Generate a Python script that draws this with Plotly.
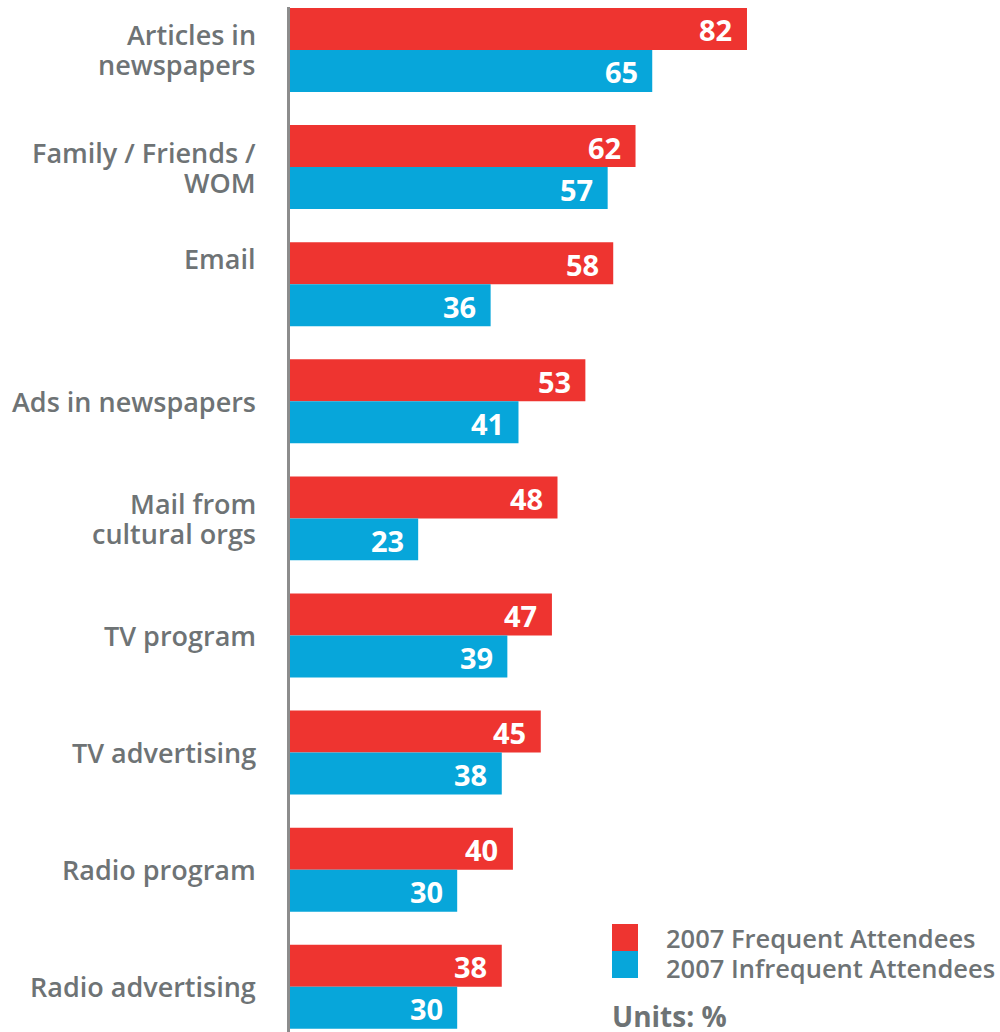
import plotly.graph_objects as go

# Sources of arts information, share of respondents (%)
categories = [
    "Articles in<br>newspapers",
    "Family / Friends /<br>WOM",
    "Email",
    "Ads in newspapers",
    "Mail from<br>cultural orgs",
    "TV program",
    "TV advertising",
    "Radio program",
    "Radio advertising",
]
frequent = [82, 62, 58, 53, 48, 47, 45, 40, 38]
infrequent = [65, 57, 36, 41, 23, 39, 38, 30, 30]
series_names = ["2007 Frequent Attendees", "2007 Infrequent Attendees"]
units_label = "Units: %"

RED = "#EE3430"
BLUE = "#07A6DA"
GREY = "#6E7375"
FONT = "Open Sans"

W, H = 1000, 1032
M_L, M_R, M_T, M_B = 290, 0, 7, 0
X_MAX = 127.4
Y_RANGE = [8.386, -0.367]
BARGAP = 0.283

plot_w = W - M_L - M_R
plot_h = H - M_T - M_B


def px_to_paper_x(px):
    return (px - M_L) / plot_w


def px_to_paper_y(py):
    return (H - M_B - py) / plot_h


fig = go.Figure()
for name, vals, col in [(series_names[0], frequent, RED),
                        (series_names[1], infrequent, BLUE)]:
    fig.add_trace(go.Bar(
        y=categories, x=vals, orientation="h", name=name,
        marker=dict(color=col, line=dict(width=0)),
        showlegend=False, hoverinfo="skip",
    ))

annotations = []

# category labels, one annotation per line for tighter leading
label_shift = {"Email": 26}
line_step = 30
for i, cat in enumerate(categories):
    lines = cat.split("<br>")
    n = len(lines)
    for k, line in enumerate(lines):
        annotations.append(dict(
            x=0, xref="paper", xanchor="right", xshift=-32,
            y=i, yref="y", yanchor="middle",
            yshift=label_shift.get(cat, 0) - (k - (n - 1) / 2) * line_step,
            text=line, showarrow=False,
            font=dict(family=FONT, size=27, weight=600, color=GREY),
        ))

# value labels inside the bar ends
half = (1 - BARGAP) / 4
for i in range(len(categories)):
    for vals, off in [(frequent, -half), (infrequent, half)]:
        annotations.append(dict(
            x=vals[i], xref="x", xanchor="center", xshift=-31,
            y=i + off, yref="y", yanchor="middle", yshift=-1,
            text=str(vals[i]), showarrow=False,
            font=dict(family=FONT, size=29, weight=700, color="white"),
        ))

# custom legend
shapes = []
for (name, col, top, bot, ty) in [
    (series_names[0], RED, 924, 951, 938),
    (series_names[1], BLUE, 951, 978, 968),
]:
    shapes.append(dict(
        type="rect", xref="paper", yref="paper",
        x0=px_to_paper_x(612), x1=px_to_paper_x(638),
        y0=px_to_paper_y(bot), y1=px_to_paper_y(top),
        fillcolor=col, line=dict(width=0),
    ))
    annotations.append(dict(
        x=px_to_paper_x(664), xref="paper", xanchor="left",
        y=px_to_paper_y(ty), yref="paper", yanchor="middle",
        text=name, showarrow=False,
        font=dict(family=FONT, size=25.5, weight=600, color=GREY),
    ))

annotations.append(dict(
    x=px_to_paper_x(610), xref="paper", xanchor="left",
    y=px_to_paper_y(1016), yref="paper", yanchor="middle",
    text=units_label, showarrow=False,
    font=dict(family=FONT, size=28, weight=700, color=GREY),
))

fig.update_layout(
    width=W, height=H,
    margin=dict(l=M_L, r=M_R, t=M_T, b=M_B, pad=0),
    paper_bgcolor="white", plot_bgcolor="white",
    barmode="group", bargap=BARGAP, bargroupgap=0,
    xaxis=dict(range=[0, X_MAX], visible=False, fixedrange=True),
    yaxis=dict(
        range=Y_RANGE, showticklabels=False, showgrid=False,
        zeroline=False, ticks="", showline=True,
        linecolor="#8C8C8C", linewidth=3, fixedrange=True,
    ),
    annotations=annotations,
    shapes=shapes,
)

fig.write_html("out.html")
